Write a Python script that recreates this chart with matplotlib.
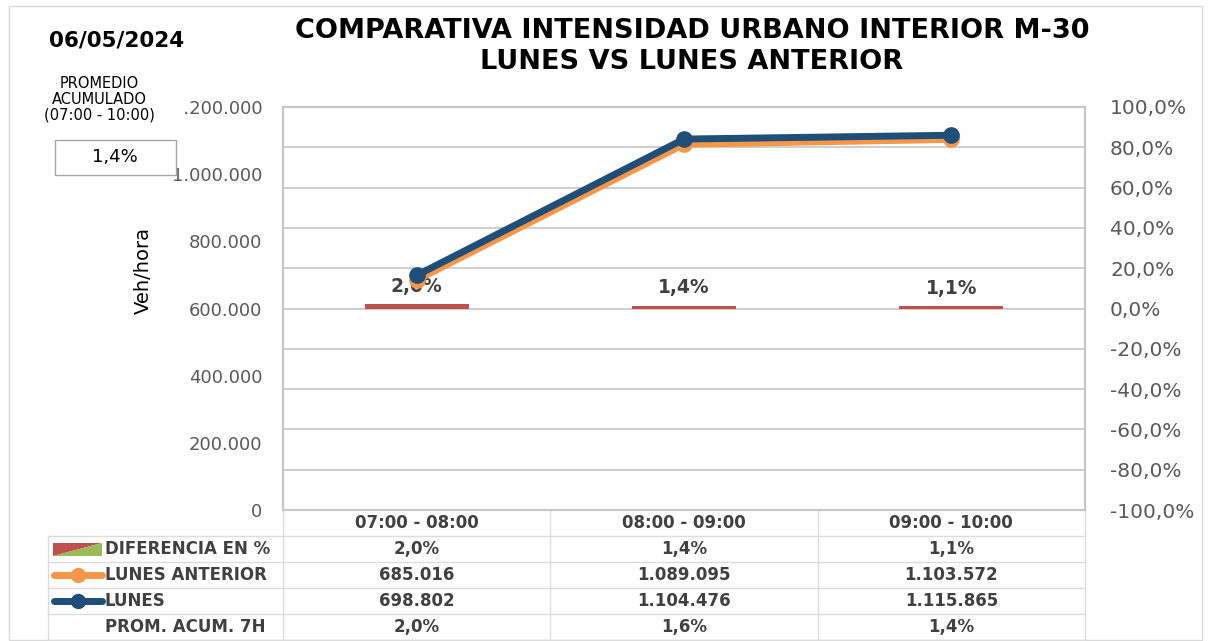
import matplotlib
matplotlib.use("Agg")
import matplotlib.pyplot as plt
from matplotlib.patches import Rectangle, Polygon
from matplotlib.lines import Line2D
import numpy as np

# ---------------- data ----------------
categories = ["07:00 - 08:00", "08:00 - 09:00", "09:00 - 10:00"]
lunes_anterior = [685016, 1089095, 1103572]
lunes = [698802, 1104476, 1115865]
diferencia_pct = [2.0, 1.4, 1.1]
prom_acum_7h = [2.0, 1.6, 1.4]
promedio_acumulado = 1.4
fecha = "06/05/2024"
title_lines = ["COMPARATIVA INTENSIDAD URBANO INTERIOR M-30", "LUNES VS LUNES ANTERIOR"]
left_ticks = [0, 200000, 400000, 600000, 800000, 1000000, 1200000]
right_ticks = [-100, -80, -60, -40, -20, 0, 20, 40, 60, 80, 100]

FONT = ["DejaVu Sans"]
plt.rcParams["font.family"] = FONT

W, H = 1211, 641
fig = plt.figure(figsize=(W / 100, H / 100), dpi=100)
fig.patch.set_facecolor("white")

def fx(px):
    return px / W

def fy(py):
    return 1 - py / H

ORANGE = "#F79646"
BLUE = "#1F4E79"
RED = "#C0504D"
GREEN = "#9BBB59"
GRID = "#C6C6C6"
TGRID = "#DCDCDC"
TXT = "#404040"
TICK = "#595959"

AX_L, AX_R, AX_T, AX_B = 283, 1085, 107, 510
rect = [fx(AX_L), fy(AX_B), fx(AX_R - AX_L), (AX_B - AX_T) / H]
ax = fig.add_axes(rect)
ax2 = ax.twinx()
ax.set_zorder(ax2.get_zorder() + 1)
ax.patch.set_visible(False)

x = np.arange(len(categories))

# bars on right axis
bar_vals = [v / 100 for v in diferencia_pct]
ax2.bar(x, bar_vals, width=0.39, color=RED, zorder=3)
for xi, v in zip(x, diferencia_pct):
    ax2.annotate(f"{v:.1f}%".replace(".", ","), (xi, v / 100), xytext=(0, 6),
                 textcoords="offset points", ha="center", va="bottom",
                 fontsize=13.5, fontweight="bold", color=TXT)
ax2.set_ylim(-1, 1)
ax2.set_yticks([t / 100 for t in right_ticks])
ax2.set_yticklabels([f"{t:.1f}%".replace(".", ",") for t in right_ticks])
ax2.tick_params(axis="y", length=0, labelsize=14.5, labelcolor=TICK, pad=18)
ax2.grid(axis="y", color=GRID, linewidth=1.2, zorder=0)
ax2.set_axisbelow(True)

# lines on left axis
ax.plot(x, lunes_anterior, color=ORANGE, linewidth=5, marker="o", markersize=11,
        solid_capstyle="round", zorder=4)
ax.plot(x, lunes, color=BLUE, linewidth=5, marker="o", markersize=11,
        solid_capstyle="round", zorder=5)
ax.set_ylim(0, 1200000)
ax.set_xlim(-0.5, len(categories) - 0.5)
ax.set_yticks(left_ticks)
ax.set_yticklabels([f"{t:,}".replace(",", ".") for t in left_ticks])
ax.tick_params(axis="y", length=0, labelsize=13, labelcolor=TICK, pad=15)
ax.set_xticks([])
ax2.set_xticks([])
for a in (ax, ax2):
    for s in a.spines.values():
        s.set_color(GRID)
        s.set_linewidth(1.5)

# overlay for texts, boxes and table
ov = fig.add_axes([0, 0, 1, 1], zorder=10)
ov.set_xlim(0, W)
ov.set_ylim(H, 0)
ov.axis("off")
ov.patch.set_visible(False)

# outer frame
ov.add_patch(Rectangle((9, 6), W - 18, H - 7, fill=False, edgecolor="#D9D9D9", linewidth=1))

# title
ov.text(692, 31, title_lines[0], ha="center", va="center", fontsize=19.5, fontweight="bold", color="#000000")
ov.text(692, 62, title_lines[1], ha="center", va="center", fontsize=19.5, fontweight="bold", color="#000000")
ov.text(117, 40, fecha, ha="center", va="center", fontsize=15.5, fontweight="bold", color="#000000")

# promedio text with white background hiding partially the tick label
ov.add_patch(Rectangle((36, 72), 148, 55, facecolor="white", edgecolor="none"))
ov.text(99, 99, "PROMEDIO\nACUMULADO\n(07:00 - 10:00)", ha="center", va="center",
        fontsize=10.5, color="#000000", linespacing=1.05)
ov.add_patch(Rectangle((55, 140), 121, 35, facecolor="white", edgecolor="#A6A6A6", linewidth=1))
ov.text(115, 157, f"{promedio_acumulado:.1f}%".replace(".", ","), ha="center", va="center",
        fontsize=13, color="#000000")

# y label
ov.text(143, 271, "Veh/hora", rotation=90, ha="center", va="center", fontsize=14,
        color="#000000", family=["Liberation Sans Narrow", "DejaVu Sans Condensed", "DejaVu Sans"])

# table
col_edges = [AX_L + i * (AX_R - AX_L) / len(categories) for i in range(len(categories) + 1)]
row_edges = [511, 536, 562, 588, 614, 640]
TAB_L = 48
LW = 1.0
for ce in col_edges:
    ov.plot([ce, ce], [AX_B + 1, row_edges[-1]], color=TGRID, lw=LW)
ov.plot([TAB_L, TAB_L], [row_edges[1], row_edges[-1]], color=TGRID, lw=LW)
for re_ in row_edges[1:]:
    ov.plot([TAB_L, AX_R], [re_, re_], color=TGRID, lw=LW)

centers = [(col_edges[i] + col_edges[i + 1]) / 2 for i in range(len(categories))]
row_c = [(row_edges[i] + row_edges[i + 1]) / 2 for i in range(len(row_edges) - 1)]
fs = 12
for c, cat in zip(centers, categories):
    ov.text(c, row_c[0], cat, ha="center", va="center", fontsize=fs, fontweight="bold", color=TXT)

def pct(v):
    return f"{v:.1f}%".replace(".", ",")

def thou(v):
    return f"{v:,}".replace(",", ".")

rows = [
    ("DIFERENCIA EN %", [pct(v) for v in diferencia_pct]),
    ("LUNES ANTERIOR", [thou(v) for v in lunes_anterior]),
    ("LUNES", [thou(v) for v in lunes]),
    ("PROM. ACUM. 7H", [pct(v) for v in prom_acum_7h]),
]
for r, (lab, vals) in enumerate(rows):
    yc = row_c[r + 1]
    ov.text(105, yc, lab, ha="left", va="center", fontsize=fs, fontweight="bold", color=TXT)
    for c, v in zip(centers, vals):
        ov.text(c, yc, v, ha="center", va="center", fontsize=fs, fontweight="bold", color=TXT)

# legend keys
yc = row_c[1]
ov.add_patch(Polygon([(53, yc - 6), (102, yc - 6), (53, yc + 7)], closed=True, facecolor=RED, edgecolor="none"))
ov.add_patch(Polygon([(102, yc - 6), (102, yc + 7), (53, yc + 7)], closed=True, facecolor=GREEN, edgecolor="none"))
for r, col in ((2, ORANGE), (3, BLUE)):
    yc = row_c[r]
    ov.add_line(Line2D([54, 102], [yc, yc], color=col, lw=5, solid_capstyle="round"))
    ov.add_line(Line2D([78], [yc], color=col, marker="o", markersize=10, lw=0))

fig.savefig("out.png", dpi=100, facecolor="white")
